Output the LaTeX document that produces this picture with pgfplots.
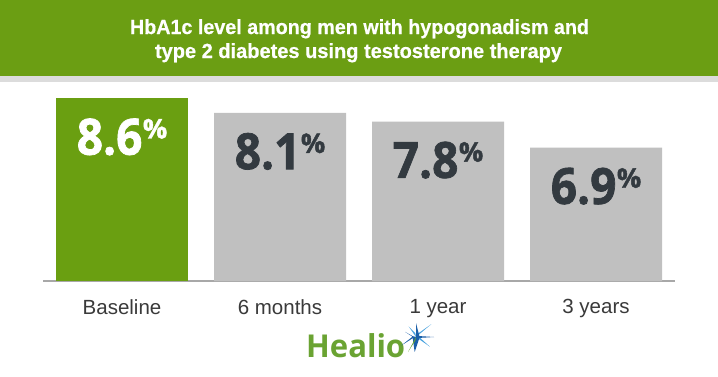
\documentclass[border=0pt]{standalone}
\usepackage{fontspec}
\setmainfont{Liberation Sans}
\newfontfamily\valfont{Open Sans}[FakeBold=1.5]
\newfontfamily\logofont{Open Sans}
\newfontfamily\titlefont{Liberation Sans}[FakeBold=0.6]
\usepackage{pgfplots}
\pgfplotsset{compat=1.18}
\definecolor{bannergreen}{HTML}{6B9E13}
\definecolor{bargreen}{HTML}{6A9F11}
\definecolor{bargray}{HTML}{C0C0C0}
\definecolor{stripgray}{HTML}{DCDCDC}
\definecolor{axisgray}{HTML}{A8A8A8}
\definecolor{darktext}{HTML}{333A40}
\definecolor{ticktext}{HTML}{3A3A3A}
\definecolor{logogreen}{HTML}{6AA332}
\definecolor{starblue}{HTML}{1B5FA8}
\definecolor{starlight}{HTML}{4AA3DF}
\newcommand{\vallabel}[1]{\valfont\bfseries\scalebox{0.92}[1]{\fontsize{50bp}{50bp}\selectfont #1}\kern0.5bp\raisebox{16.2bp}{\fontsize{27bp}{27bp}\selectfont\%}}
\begin{document}
\begin{tikzpicture}
\useasboundingbox (0,0) rectangle (718bp,-377bp);
\fill[white] (0,0) rectangle (718bp,-377bp);
\fill[bannergreen] (0,0) rectangle (718bp,-76bp);
\fill[stripgray] (0,-76bp) rectangle (718bp,-82bp);
\node[anchor=base, white, inner sep=0pt] at (359.5bp,-34bp)
  {\resizebox{459bp}{\height}{\titlefont\fontsize{20.5bp}{20bp}\selectfont\bfseries HbA1c level among men with hypogonadism and}};
\node[anchor=base, white, inner sep=0pt] at (358.5bp,-58bp)
  {\resizebox{407bp}{\height}{\titlefont\fontsize{20.5bp}{20bp}\selectfont\bfseries type 2 diabetes using testosterone therapy}};
\begin{axis}[
  at={(43bp,-281bp)}, anchor=south west,
  scale only axis, width=632bp, height=194.3bp,
  xmin=-0.5, xmax=3.5, ymin=2.3, ymax=9,
  ybar, bar width=132bp, bar shift=0pt,
  axis x line*=bottom, axis y line=none,
  x axis line style={draw=axisgray, line width=1.2bp, -},
  xtick={0,1,2,3},
  xticklabels={Baseline,6 months,1 year,3 years},
  major tick length=0pt,
  ytick=\empty,
  xticklabel style={font=\fontsize{20.5bp}{21bp}\selectfont, text=ticktext, anchor=north, inner sep=0pt, yshift=-18bp},
  point meta=explicit symbolic,
  nodes near coords={\vallabel{\pgfplotspointmeta}},
  every node near coord/.append style={anchor=north, inner sep=0pt, yshift=-20bp},
]
\addplot[fill=bargreen, draw=none, nodes near coords style={text=white}] coordinates {(0,8.6) [8.6]};
\addplot[fill=bargray, draw=none, nodes near coords style={text=darktext}] coordinates {(1,8.1) [8.1] (2,7.8) [7.8] (3,6.9) [6.9]};
\end{axis}
\node[anchor=base west, inner sep=0pt, text=logogreen] at (306bp,-357bp)
  {\resizebox{99bp}{\height}{\logofont\bfseries\fontsize{31.5bp}{32bp}\selectfont Healio}};
\begin{scope}[shift={(416bp,-337bp)}]
\fill[starlight] (0,0) -- (40:20bp) -- (60:4bp) -- cycle;
\fill[starlight] (0,0) -- (-35:17bp) -- (-10:4bp) -- cycle;
\fill[starlight] (0,0) -- (125:13bp) -- (100:4bp) -- cycle;
\fill[starblue] (0,0) -- (90:14bp) -- (15:3.5bp) -- (0:18bp) -- (-15:3.5bp) -- (-95:15bp) -- (-160:3.5bp) -- (-150:17bp) -- (-185:3.5bp) -- (155:12bp) -- (165:3.5bp) -- cycle;
\fill[logogreen] (0,0) -- (-118:17bp) -- (-100:3.5bp) -- cycle;
\end{scope}
\end{tikzpicture}
\end{document}
